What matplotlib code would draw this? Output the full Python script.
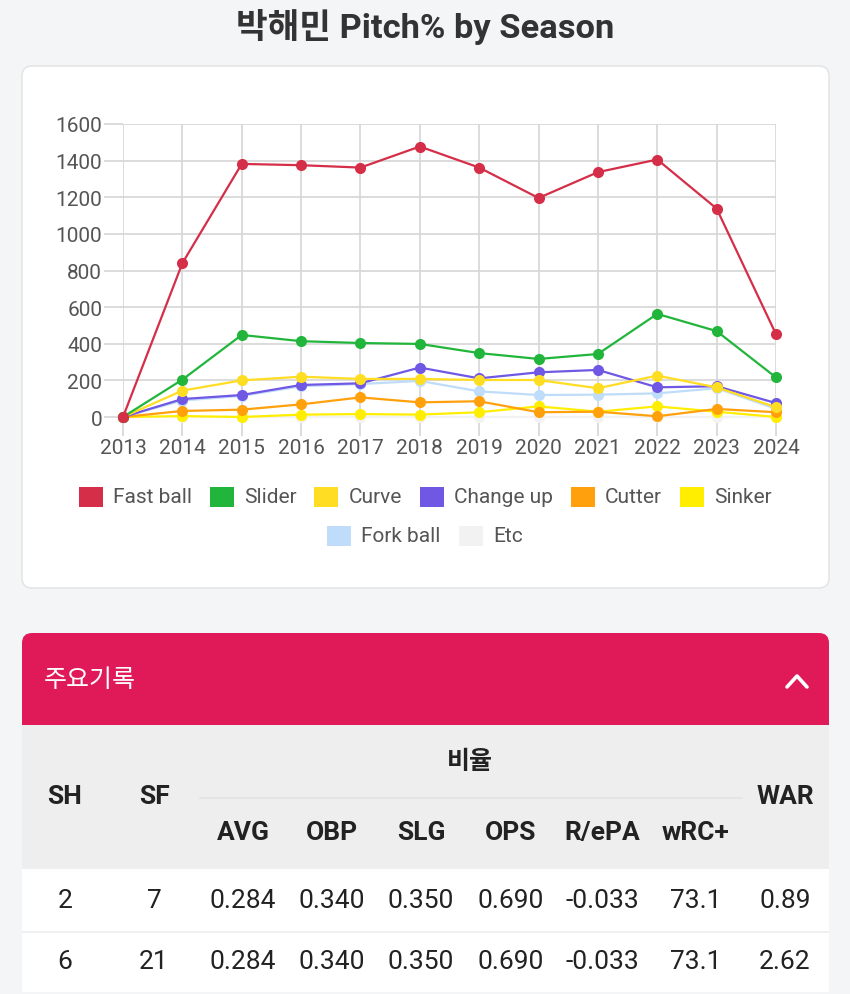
import matplotlib.pyplot as plt
from matplotlib.patches import FancyBboxPatch, Rectangle
from matplotlib.lines import Line2D
from matplotlib.transforms import IdentityTransform

plt.rcParams['font.family'] = ['Roboto', 'Noto Sans CJK KR', 'DejaVu Sans']

# 데이터
years = list(range(2013, 2025))
fast_ball = [0, 840, 1382, 1375, 1362, 1477, 1362, 1196, 1337, 1406, 1138, 452]
slider = [0, 204, 448, 414, 404, 399, 349, 317, 344, 563, 469, 216]
curve = [0, 144, 200, 220, 208, 208, 202, 202, 157, 226, 162, 53]
change_up = [0, 98, 120, 175, 184, 270, 211, 244, 257, 162, 168, 76]
cutter = [0, 33, 40, 69, 107, 80, 86, 26, 29, 4, 44, 26]
sinker = [0, 5, 0, 13, 16, 13, 26, 58, 29, 58, 29, 0]
fork_ball = [0, 90, 115, 168, 180, 197, 140, 120, 122, 129, 157, 45]
etc = [0, 0, 0, 0, 0, 0, 0, 0, 0, 0, 0, 0]

pitch_names = ['Fast ball', 'Slider', 'Curve', 'Change up', 'Cutter', 'Sinker', 'Fork ball', 'Etc']
pitch_values = [fast_ball, slider, curve, change_up, cutter, sinker, fork_ball, etc]
pitch_colors = ['#D42E48', '#21B63B', '#FFDD22', '#7158E4', '#FFA00C', '#FFEE00', '#BFDDFA', '#F2F2F2']

head_cols = ['SH', 'SF']
rate_cols = ['AVG', 'OBP', 'SLG', 'OPS', 'R/ePA', 'wRC+']
last_col = 'WAR'
rows = [['2', '7', '0.284', '0.340', '0.350', '0.690', '-0.033', '73.1', '0.89'],
        ['6', '21', '0.284', '0.340', '0.350', '0.690', '-0.033', '73.1', '2.62']]

W, H = 850, 995
fig = plt.figure(figsize=(W / 100, H / 100), dpi=100)
fig.patch.set_facecolor('#F4F5F7')
ident = IdentityTransform()


def fx(x):
    return x / W


def fy(y):
    return 1 - y / H


def box(x0, y0, x1, y1, fc, ec='none', r=0, z=0):
    # 픽셀 좌표 (위에서부터)
    if r > 0:
        p = FancyBboxPatch((x0, H - y1), x1 - x0, y1 - y0,
                           boxstyle='round,pad=0,rounding_size=%d' % r,
                           fc=fc, ec=ec, lw=1, transform=ident, zorder=z)
    else:
        p = Rectangle((x0, H - y1), x1 - x0, y1 - y0, fc=fc, ec=ec, lw=1,
                      transform=ident, zorder=z)
    fig.add_artist(p)


# 제목
fig.text(fx(425), fy(27), '박해민 Pitch% by Season', ha='center', va='center',
         fontsize=24.8, fontweight='bold', color='#333333')

# 차트 카드
box(22, 67, 829, 589, 'white', '#E2E2E2', r=10)

ax = fig.add_axes([fx(123), fy(418), fx(776) - fx(123), fy(125) - fy(418)])
ax.set_facecolor('none')
for i in range(len(pitch_names) - 1, -1, -1):
    ax.plot(years, pitch_values[i], color=pitch_colors[i], lw=1.6, marker='o',
            ms=8, mew=0, clip_on=False, zorder=10 - i)
ax.set_xlim(2013, 2024)
ax.set_ylim(0, 1600)
ax.set_xticks(years)
ax.set_yticks(range(0, 1601, 200))
ax.grid(True, color='#D6D6D6', lw=1.2)
ax.set_axisbelow(True)
for s in ax.spines.values():
    s.set_visible(False)
ax.tick_params(axis='both', colors='#D6D6D6', width=1.2, length=14, labelsize=15,
               labelcolor='#555555')
ax.tick_params(axis='y', pad=1)
ax.tick_params(axis='x', pad=1)

# 범례
renderer = fig.canvas.get_renderer()
legend_rows = [(pitch_names[:6], pitch_colors[:6], 498), (pitch_names[6:], pitch_colors[6:], 537)]
bw, bh, gap, spacing = 24, 20, 10, 18
for names, cols, yc in legend_rows:
    texts = []
    widths = []
    for n in names:
        t = fig.text(0, fy(yc), n, fontsize=15, color='#555555', va='center', ha='left')
        widths.append(t.get_window_extent(renderer).width)
        texts.append(t)
    total = sum(bw + gap + w for w in widths) + spacing * (len(names) - 1)
    x = 425 - total / 2
    for t, w, c in zip(texts, widths, cols):
        box(x, yc - bh / 2, x + bw, yc + bh / 2, c, z=3)
        t.set_x(fx(x + bw + gap))
        x += bw + gap + w + spacing

# 주요기록 테이블
box(22, 634, 829, 1010, 'white', r=10)
box(22, 634, 829, 726, '#E01A59', r=10, z=1)
box(22, 690, 829, 726, '#E01A59', z=1)
fig.text(fx(44), fy(680), '주요기록', fontsize=18, fontweight='medium', color='white',
         va='center', ha='left', zorder=3)
fig.add_artist(Line2D([fx(787), fx(797), fx(807)], [fy(688), fy(677), fy(688)],
                      color='white', lw=2.6, solid_capstyle='round',
                      solid_joinstyle='round', zorder=3))
box(22, 726, 829, 870, '#EEEEEE', z=1)
box(22, 932, 829, 934, '#F0F0F0', z=1)
box(0, 993, W, H + 5, '#F4F5F7', z=2)

fig.add_artist(Line2D([fx(200), fx(742)], [fy(799), fy(799)], color='#E2E2E2', lw=1.2, zorder=3))

col_x = [65, 154, 243, 332, 421, 511, 602, 696, 785]
hdr_kw = dict(fontsize=19, fontweight='bold', color='#222222', ha='center', va='center', zorder=4)
fig.text(fx(470), fy(762), '비율', fontsize=18, fontweight='bold', color='#222222',
         ha='center', va='center', zorder=4)
for name, x in zip(head_cols, col_x[:2]):
    fig.text(fx(x), fy(797), name, **hdr_kw)
fig.text(fx(col_x[-1]), fy(797), last_col, **hdr_kw)
for name, x in zip(rate_cols, col_x[2:8]):
    fig.text(fx(x), fy(833), name, **hdr_kw)

for row, yc in zip(rows, [901, 962]):
    for val, x in zip(row, col_x):
        fig.text(fx(x), fy(yc), val, fontsize=19, color='#222222', ha='center',
                 va='center', zorder=4)

fig.savefig('out.png', dpi=100, facecolor=fig.get_facecolor())
